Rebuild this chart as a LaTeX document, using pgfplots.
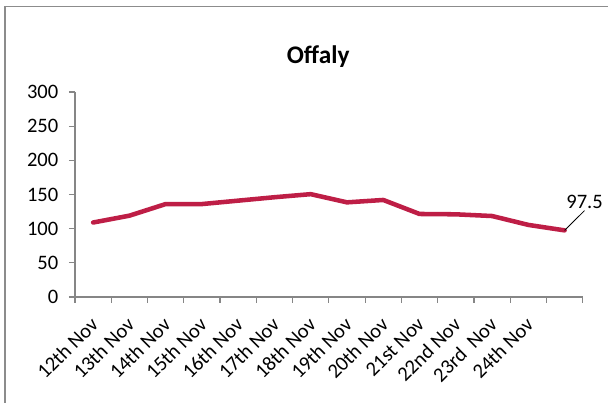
\documentclass[border=0pt]{standalone}
\usepackage{pgfplots}
\pgfplotsset{compat=1.18}
\usepackage{fontspec}
\setmainfont{Carlito}
\definecolor{linec}{HTML}{BE1E46}
\definecolor{axc}{HTML}{868686}
\definecolor{framec}{HTML}{8C8C8C}
\begin{document}
\begin{tikzpicture}
\useasboundingbox (0,0) rectangle (456pt,302.25pt);
\draw[framec, line width=1.3pt] (3.9pt,-5pt) -- (3.9pt,297.4pt) -- (465pt,297.4pt);
\begin{axis}[
  at={(56.25pt,79.5pt)}, anchor=south west,
  scale only axis, width=380.8pt, height=153.75pt,
  xmin=0.5, xmax=14.5, ymin=0, ymax=300,
  axis x line*=bottom, axis y line*=left,
  axis line style={-, axc, line width=0.9pt},
  xtick={1,...,13},
  xticklabels={12th Nov,13th Nov,14th Nov,15th Nov,16th Nov,17th Nov,18th Nov,19th Nov,20th Nov,21st Nov,22nd Nov,23rd~~Nov,24th Nov},
  minor xtick={0.5,1.5,...,14.5},
  ytick={0,50,...,300}, minor ytick={0,50,...,300},
  major tick length=0pt, minor tick length=4.5pt,
  tick align=outside,
  tick style={axc, line width=0.9pt},
  /pgf/number format/assume math mode=true,
  ticklabel style={font=\fontsize{15.4}{18}\selectfont, text=black},
  yticklabel style={anchor=east, xshift=-9pt},
  xticklabel style={xshift=3.5pt, yshift=-15.5pt, rotate=45, anchor=east},
  title={Offaly},
  title style={at={(0.479,1)}, anchor=base, yshift=15.5pt, font=\fontsize{19}{22}\selectfont\bfseries},
  clip=false,
]
\addplot[linec, line width=3.4pt, line join=round, line cap=round] coordinates {
  (1,109) (2,119) (3,136) (4,136) (5,141) (6,146) (7,150.5)
  (8,138.5) (9,142) (10,121.5) (11,121) (12,118.5) (13,105.5) (14,97.5)
};
\draw[black, line width=0.6pt] (axis cs:14,97.5) -- (axis cs:14.55,126.5)
  node[anchor=south, inner sep=1pt, font=\fontsize{15.4}{18}\selectfont]{97.5};
\end{axis}
\end{tikzpicture}
\end{document}
